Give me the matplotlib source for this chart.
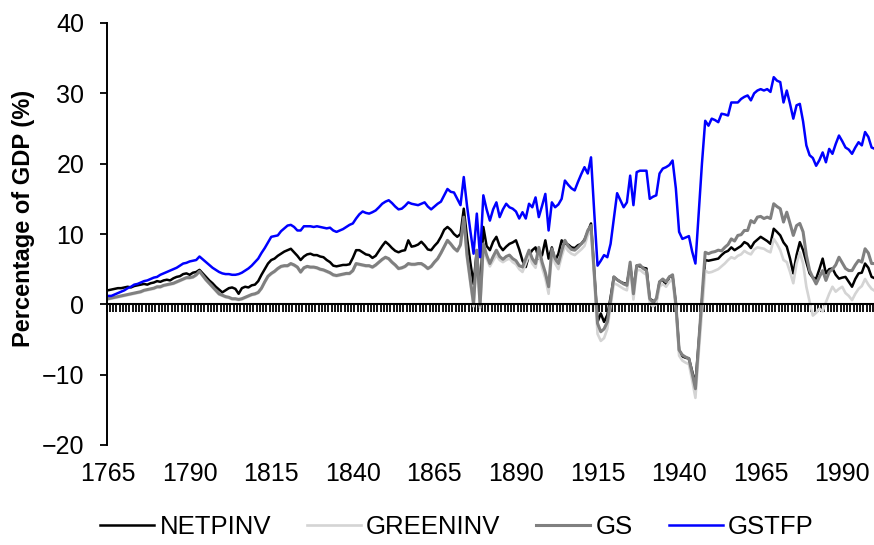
import numpy as np
import matplotlib
matplotlib.use("Agg")
import matplotlib.pyplot as plt
from matplotlib.ticker import FixedLocator, NullFormatter

plt.rcParams['font.family'] = ['Liberation Sans', 'DejaVu Sans']

years = list(range(1765, 2001))

netpinv = [
    2.0, 2.1, 2.2, 2.3, 2.3, 2.4, 2.5, 2.4, 2.6, 2.7,
    2.8, 2.9, 2.8, 3.0, 3.1, 3.3, 3.2, 3.4, 3.5, 3.4,
    3.7, 3.9, 4.0, 4.3, 4.4, 4.2, 4.5, 4.6, 4.9, 4.4,
    3.9, 3.4, 3.0, 2.5, 2.1, 1.7, 2.0, 2.3, 2.4, 2.2,
    1.5, 2.3, 2.5, 2.4, 2.7, 2.8, 3.3, 4.2, 5.0, 5.8,
    6.3, 6.5, 6.9, 7.2, 7.5, 7.7, 7.9, 7.4, 6.9, 6.3,
    6.8, 7.1, 7.2, 7.0, 7.0, 6.8, 6.7, 6.3, 6.0, 5.5,
    5.4, 5.5, 5.6, 5.6, 5.7, 6.6, 7.7, 7.7, 7.4, 7.1,
    7.0, 6.6, 6.9, 7.6, 8.3, 8.9, 8.5, 8.0, 7.6, 7.4,
    7.6, 7.7, 9.1, 8.2, 8.3, 8.5, 8.9, 8.4, 7.8, 7.7,
    8.3, 8.8, 9.6, 10.6, 11.0, 10.6, 10.0, 9.6, 10.0, 13.6,
    9.5, 6.0, 2.9, 7.7, 1.3, 11.0, 8.3, 7.7, 8.9, 9.6,
    8.3, 7.7, 8.2, 8.6, 8.8, 9.1, 7.8, 6.2, 5.3, 7.0,
    7.7, 8.1, 6.5, 7.0, 9.1, 6.5, 8.1, 6.2, 7.2, 9.1,
    8.6, 8.5, 8.1, 8.0, 8.4, 8.6, 9.2, 10.3, 11.5, 4.5,
    -2.5, -1.3, -2.5, -1.5, 1.0, 3.9, 3.5, 3.2, 3.0, 2.9,
    5.5, 2.0, 5.5, 5.4, 5.2, 5.1, 0.8, 0.5, 0.3, 3.2,
    3.5, 2.7, 3.9, 4.0, 0.1, -6.5, -7.4, -7.6, -7.7, -9.5,
    -11.3, -5.5, 0.5, 6.3, 6.2, 6.3, 6.4, 6.5, 7.0, 7.4,
    7.6, 8.1, 7.7, 8.0, 8.3, 8.85, 8.6, 8.0, 8.8, 9.2,
    9.6, 9.3, 9.0, 8.6, 10.75, 10.3, 9.8, 8.8, 8.2, 6.5,
    4.4, 7.0, 8.85, 7.7, 6.0, 4.4, 3.8, 3.65, 5.0, 6.5,
    4.4, 5.0, 5.1, 4.2, 3.65, 3.8, 3.9, 3.2, 2.5, 3.6,
    4.4, 4.5, 5.8, 5.2, 3.9, 3.7,
]

greeninv = [
    0.7, 0.8, 0.9, 1.0, 1.1, 1.2, 1.3, 1.4, 1.5, 1.6,
    1.7, 1.9, 2.0, 2.1, 2.2, 2.4, 2.4, 2.6, 2.7, 2.8,
    2.9, 3.1, 3.3, 3.5, 3.7, 3.7, 3.8, 4.1, 4.6, 4.0,
    3.4, 2.9, 2.4, 1.9, 1.4, 1.2, 1.0, 0.9, 0.7, 0.7,
    0.6, 0.7, 0.9, 1.1, 1.3, 1.4, 1.6, 2.2, 3.1, 3.9,
    4.3, 4.6, 5.0, 5.3, 5.4, 5.4, 5.7, 5.5, 5.2, 4.5,
    5.1, 5.3, 5.2, 5.2, 5.1, 4.9, 4.8, 4.6, 4.4, 4.1,
    4.0, 4.1, 4.2, 4.3, 4.3, 4.7, 5.7, 5.6, 5.5, 5.4,
    5.4, 5.2, 5.5, 5.9, 6.3, 6.6, 6.4, 5.9, 5.5, 5.0,
    5.1, 5.3, 5.7, 5.6, 5.6, 5.7, 5.7, 5.4, 5.0, 5.3,
    5.9, 6.4, 7.2, 8.1, 9.0, 8.5, 7.9, 7.5, 8.3, 11.8,
    6.5, 3.0, -0.3, 7.0, -0.5, 7.8, 6.5, 5.4, 6.2, 7.0,
    6.3, 6.0, 6.3, 6.5, 6.0, 5.7, 5.0, 4.6, 5.8, 7.0,
    5.8, 5.2, 7.4, 5.2, 3.7, 1.5, 7.2, 5.8, 5.0, 6.8,
    8.3, 7.6, 7.2, 7.0, 7.4, 7.8, 8.3, 9.8, 10.5, 3.5,
    -4.2, -5.2, -4.8, -3.5, -0.3, 3.0, 2.8, 2.5, 2.2, 2.0,
    5.2, 0.7, 4.8, 4.9, 4.5, 4.2, 0.2, -0.3, 0.1, 2.5,
    2.9, 2.5, 3.2, 3.5, -0.6, -7.3, -8.0, -8.3, -8.5, -10.8,
    -13.3, -7.0, -1.0, 4.8, 4.5, 4.6, 4.8, 5.0, 5.4, 5.8,
    6.3, 6.7, 6.5, 6.9, 7.1, 7.6, 7.3, 7.1, 7.8, 8.1,
    8.0, 7.9, 7.6, 7.4, 9.3, 8.6, 7.7, 6.3, 6.0, 4.6,
    3.0, 5.8, 7.4, 5.8, 2.5, 0.4, -1.6, -1.2, -0.6, -1.0,
    0.3, 1.5, 2.5, 1.8, 2.2, 2.5, 1.6, 1.2, 0.6, 1.5,
    2.2, 2.6, 3.6, 2.8, 2.2, 1.9,
]

gs = [
    0.8, 0.9, 1.0, 1.1, 1.2, 1.3, 1.4, 1.5, 1.6, 1.7,
    1.8, 2.0, 2.1, 2.2, 2.3, 2.5, 2.5, 2.7, 2.8, 2.9,
    3.0, 3.2, 3.4, 3.6, 3.8, 3.8, 3.9, 4.2, 4.7, 4.1,
    3.5, 3.0, 2.5, 2.0, 1.5, 1.3, 1.1, 1.0, 0.8, 0.8,
    0.7, 0.8, 1.0, 1.2, 1.4, 1.5, 1.7, 2.3, 3.2, 4.0,
    4.4, 4.7, 5.1, 5.4, 5.5, 5.5, 5.8, 5.6, 5.3, 4.6,
    5.2, 5.4, 5.3, 5.3, 5.2, 5.0, 4.9, 4.7, 4.5, 4.2,
    4.1, 4.2, 4.3, 4.4, 4.4, 4.8, 5.8, 5.7, 5.6, 5.5,
    5.5, 5.3, 5.6, 6.0, 6.4, 6.7, 6.5, 6.0, 5.6, 5.1,
    5.2, 5.4, 5.8, 5.7, 5.7, 5.8, 5.8, 5.5, 5.1, 5.4,
    6.0, 6.5, 7.3, 8.2, 9.1, 8.6, 8.0, 7.6, 8.5, 12.4,
    7.0, 3.5, 0.1, 7.7, -0.1, 8.6, 7.0, 5.8, 6.8, 7.7,
    6.8, 6.4, 6.8, 7.0, 6.5, 6.2, 5.5, 5.3, 6.5, 7.7,
    6.5, 5.8, 8.1, 6.0, 4.5, 2.5, 7.9, 6.5, 5.8, 7.6,
    9.1, 8.3, 7.8, 7.7, 8.1, 8.6, 9.1, 10.5, 11.2, 4.5,
    -2.7, -3.9, -3.5, -2.5, 0.5, 3.9, 3.5, 3.2, 2.9, 2.7,
    6.0, 1.5, 5.5, 5.6, 5.1, 4.8, 0.8, 0.3, 0.8, 3.2,
    3.6, 3.2, 3.9, 4.2, 0.1, -6.5, -7.2, -7.5, -7.7, -9.8,
    -12.0, -5.5, 1.0, 7.4, 7.2, 7.4, 7.5, 7.7, 7.6, 8.1,
    8.5, 9.3, 9.0, 9.8, 9.9, 10.5, 10.5, 11.9, 11.6, 12.4,
    12.5, 12.2, 12.4, 12.2, 14.3, 13.9, 13.6, 11.7, 13.1, 11.5,
    9.8, 11.2, 11.5, 10.3, 7.0, 4.8, 3.8, 2.9, 3.9, 4.8,
    3.4, 4.6, 5.0, 5.6, 6.7, 5.9, 5.1, 4.8, 4.8, 5.6,
    6.25, 6.0, 7.9, 7.3, 5.8, 5.8,
]

gstfp = [
    1.2, 1.2, 1.4, 1.6, 1.8, 2.0, 2.3, 2.5, 2.8, 2.9,
    3.1, 3.3, 3.4, 3.6, 3.8, 3.9, 4.2, 4.4, 4.6, 4.8,
    5.0, 5.2, 5.5, 5.8, 5.9, 6.1, 6.2, 6.3, 6.8, 6.4,
    6.0, 5.6, 5.2, 4.9, 4.6, 4.4, 4.3, 4.3, 4.2, 4.2,
    4.3, 4.5, 4.8, 5.1, 5.5, 6.0, 6.5, 7.3, 8.0, 8.8,
    9.6, 9.7, 9.8, 10.4, 10.8, 11.2, 11.3, 11.0, 10.5, 10.5,
    11.1, 11.1, 11.1, 11.0, 11.1, 11.0, 10.9, 10.8, 10.9, 10.5,
    10.3, 10.5, 10.7, 11.0, 11.3, 11.5, 12.2, 12.8, 13.2, 13.0,
    12.9, 13.1, 13.35, 13.8, 14.3, 14.6, 14.8, 14.4, 13.9, 13.5,
    13.6, 14.0, 14.5, 14.3, 14.2, 14.1, 14.3, 14.5, 13.9, 13.5,
    13.9, 14.3, 14.6, 15.5, 16.4, 16.0, 15.9, 15.0, 14.1, 18.1,
    14.0, 10.5, 7.2, 12.9, 6.7, 15.5, 13.5, 11.9, 13.5, 14.5,
    12.4, 13.5, 14.3, 13.8, 13.6, 13.2, 12.2, 13.1, 12.2, 14.3,
    13.8, 15.2, 12.4, 14.0, 15.7, 10.5, 14.5, 13.8, 14.2, 15.0,
    17.6, 17.0, 16.5, 16.2, 17.4, 18.5, 19.5, 18.6, 20.9, 13.0,
    5.5, 6.2, 7.0, 6.7, 8.6, 12.2, 15.8, 14.8, 13.8, 14.5,
    18.3, 14.1, 18.8, 19.0, 19.0, 19.0, 15.0, 15.3, 15.5, 18.6,
    19.3, 19.5, 19.8, 20.45, 16.5, 10.3, 9.3, 9.5, 9.7, 7.5,
    5.8, 13.0, 20.0, 26.1, 25.4, 26.4, 26.2, 25.9, 27.1, 27.0,
    26.85, 28.7, 28.7, 28.7, 29.2, 29.5, 29.7, 29.0, 30.0, 30.4,
    30.6, 30.4, 30.6, 30.2, 32.3, 31.8, 31.6, 28.7, 30.4, 28.5,
    26.4, 28.3, 28.5, 26.0, 22.6, 21.2, 20.8, 19.7, 20.5, 21.6,
    20.2, 22.1, 21.4, 22.8, 24.0, 23.2, 22.3, 22.0, 21.4, 22.3,
    23.05, 22.6, 24.5, 23.8, 22.3, 22.1,
]

label_years = [1765, 1790, 1815, 1840, 1865, 1890, 1915, 1940, 1965, 1990]

fig = plt.figure(figsize=(8.74, 5.45), dpi=100)
ax = fig.add_axes([106.5 / 874, 1 - 445 / 545, 770 / 874, 422 / 545])

ax.plot(years, netpinv, color='black', lw=1.8, label='NETPINV')
ax.plot(years, greeninv, color='#d4d4d4', lw=1.9, label='GREENINV')
ax.plot(years, gs, color='#808080', lw=2.2, label='GS')
ax.plot(years, gstfp, color='#0000ff', lw=1.8, label='GSTFP')

ax.set_xlim(1764.5, 2000.5)
ax.set_ylim(-20, 40)
ax.set_yticks(range(-20, 41, 10))
ax.tick_params(axis='y', direction='out', length=5, width=1.3, labelsize=18, pad=11)

# Excel-like category axis crossing at zero, with a tick at every year boundary
ax.spines['top'].set_visible(False)
ax.spines['right'].set_visible(False)
ax.spines['left'].set_linewidth(1.4)
ax.spines['bottom'].set_position(('data', 0))
ax.spines['bottom'].set_linewidth(1.5)
ax.xaxis.set_major_locator(FixedLocator(np.arange(1764.5, 2001, 1.0)))
ax.xaxis.set_major_formatter(NullFormatter())
ax.tick_params(axis='x', direction='out', length=6, width=1.3)

# labels sit at the bottom of the plot, not on the zero line
sec = ax.secondary_xaxis('bottom')
sec.spines['bottom'].set_visible(False)
sec.set_xticks(label_years)
sec.set_xticklabels([str(y) for y in label_years])
sec.tick_params(axis='x', length=0, labelsize=18, pad=12)

fig.text(24 / 874, 1 - 218 / 545, 'Percentage of GDP (%)', rotation=90,
         ha='center', va='center', fontsize=17, fontweight='bold')

fig.legend(loc='center', bbox_to_anchor=(457 / 874, 1 - 527 / 545), ncol=4,
           frameon=False, fontsize=18.5, handlelength=2.1, handletextpad=0.2,
           columnspacing=1.4)

fig.savefig('out.png', dpi=100)
